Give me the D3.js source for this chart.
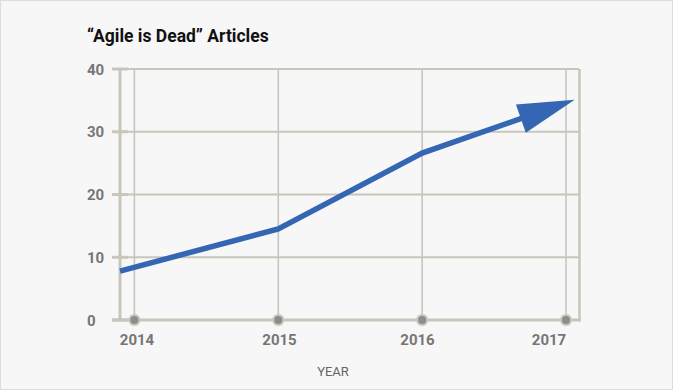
<!DOCTYPE html>
<html>
<head>
<meta charset="utf-8">
<script src="https://cdn.jsdelivr.net/npm/d3@7"></script>
<style>
    body { margin: 0; background: #fff; }
    #eg-svg { display: block; font-family: Roboto, "Noto Sans", sans-serif; }
</style>
</head>
<body>
<svg id="eg-svg"></svg>
<script>
// values
var years = [2014, 2015, 2016, 2017];
var yTicks = [0, 10, 20, 30, 40];
// the line starts on the axis and ends in an arrow past 2017
var articleYears = [2013.9, 2015, 2016, 2017.06];
var articleCounts = [7.8, 14.5, 26.6, 35.1];

var width = 673,
    height = 391;
var plot = { left: 120, right: 579, top: 69, bottom: 320 };
var gridColor = "#c8c6bb";
var labelColor = "#767676";
var lineColor = "#3466b4";

var svg = d3.select("#eg-svg")
    .attr("width", width)
    .attr("height", height);

// page background with thin frame
svg.append("rect")
    .attr("x", 0.5)
    .attr("y", 0.5)
    .attr("width", width - 1)
    .attr("height", height - 2)
    .attr("fill", "#f7f7f7")
    .attr("stroke", "#dddddd");

var xScale = d3.scaleLinear()
    .domain([2013.9, 2017.09])
    .range([plot.left, plot.right]);
var yScale = d3.scaleLinear()
    .domain([0, 40])
    .range([plot.bottom, plot.top]);
// year labels sit a little off the gridlines in the original
var labelScale = d3.scaleLinear()
    .domain(years)
    .range([137, 279.5, 417.5, 549]);

svg.append("text")
    .attr("x", 87)
    .attr("y", 42)
    .attr("font-size", 17.5)
    .attr("font-weight", "bold")
    .attr("fill", "#111")
    .text("\u201cAgile is Dead\u201d Articles");

// horizontal gridlines
svg.append("g")
    .selectAll("line")
    .data(yTicks.filter(d => d > 0))
    .join("line")
    .attr("x1", plot.left)
    .attr("x2", plot.right)
    .attr("y1", d => yScale(d))
    .attr("y2", d => yScale(d))
    .attr("stroke", gridColor)
    .attr("stroke-width", 2);

// vertical gridlines
svg.append("g")
    .selectAll("line")
    .data(years)
    .join("line")
    .attr("x1", d => xScale(d))
    .attr("x2", d => xScale(d))
    .attr("y1", plot.top)
    .attr("y2", plot.bottom)
    .attr("stroke", gridColor)
    .attr("stroke-width", 1.6);

// little ticks left of the y axis
svg.append("g")
    .selectAll("line")
    .data(yTicks)
    .join("line")
    .attr("x1", plot.left - 8)
    .attr("x2", plot.left + 8)
    .attr("y1", d => yScale(d))
    .attr("y2", d => yScale(d))
    .attr("stroke", gridColor)
    .attr("stroke-width", 3);

// axis frame: left, right, bottom
svg.append("line")
    .attr("x1", plot.left).attr("x2", plot.left)
    .attr("y1", plot.top).attr("y2", plot.bottom + 1.5)
    .attr("stroke", gridColor).attr("stroke-width", 3);
svg.append("line")
    .attr("x1", plot.right + 0.5).attr("x2", plot.right + 0.5)
    .attr("y1", plot.top).attr("y2", plot.bottom + 1.5)
    .attr("stroke", gridColor).attr("stroke-width", 2.5);
svg.append("line")
    .attr("x1", plot.left - 8).attr("x2", plot.right + 1.75)
    .attr("y1", plot.bottom).attr("y2", plot.bottom)
    .attr("stroke", gridColor).attr("stroke-width", 3);

// y labels (left aligned)
svg.append("g")
    .selectAll("text")
    .data(yTicks)
    .join("text")
    .attr("x", 87)
    .attr("y", d => yScale(d) + 5.5)
    .attr("font-size", 15)
    .attr("font-weight", "bold")
    .attr("fill", labelColor)
    .text(d => d);

// year dots on the bottom axis
var dots = svg.append("g")
    .selectAll("g")
    .data(years)
    .join("g")
    .attr("transform", d => "translate(" + xScale(d) + "," + plot.bottom + ")");
dots.append("circle")
    .attr("r", 6)
    .attr("fill", gridColor);
dots.append("circle")
    .attr("r", 4)
    .attr("fill", "#8d8d8d");

svg.append("g")
    .selectAll("text")
    .data(years)
    .join("text")
    .attr("x", d => labelScale(d))
    .attr("y", 345)
    .attr("text-anchor", "middle")
    .attr("font-size", 15)
    .attr("font-weight", "bold")
    .attr("fill", labelColor)
    .text(d => d);

svg.append("text")
    .attr("x", 333)
    .attr("y", 376)
    .attr("text-anchor", "middle")
    .attr("font-size", 13)
    .attr("fill", "#666")
    .text("YEAR");

// the trend line, last segment stops under the arrowhead
var pts = articleYears.map(function(yr, i) {
    return [xScale(yr), yScale(articleCounts[i])];
});
var tip = pts[pts.length - 1];
var prev = pts[pts.length - 2];
var dx = tip[0] - prev[0],
    dy = tip[1] - prev[1];
var len = Math.sqrt(dx * dx + dy * dy);
var ux = dx / len,
    uy = dy / len;
var headLength = 57,
    headHalf = 15;
var linePts = pts.slice(0, -1).concat([[tip[0] - ux * 40, tip[1] - uy * 40]]);

svg.append("path")
    .datum(linePts)
    .attr("d", d3.line())
    .attr("fill", "none")
    .attr("stroke", lineColor)
    .attr("stroke-width", 5.5)
    .attr("stroke-linejoin", "miter");

var baseX = tip[0] - ux * headLength,
    baseY = tip[1] - uy * headLength;
svg.append("path")
    .attr("d", "M" + tip[0] + "," + tip[1] +
        "L" + (baseX + uy * headHalf) + "," + (baseY - ux * headHalf) +
        "L" + (baseX - uy * headHalf) + "," + (baseY + ux * headHalf) + "Z")
    .attr("fill", lineColor);
</script>
</body>
</html>
